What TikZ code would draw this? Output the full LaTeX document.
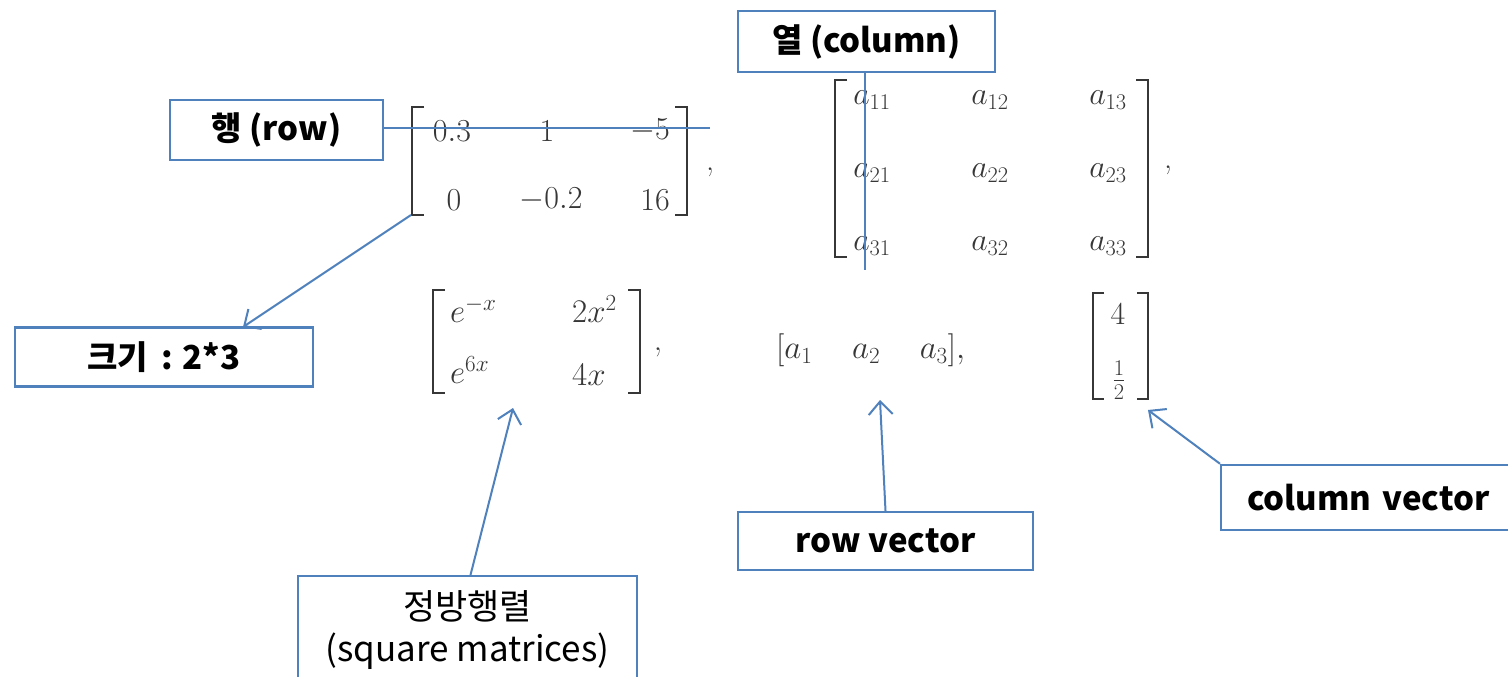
\RequirePackage{fix-cm}
\documentclass[tikz,border=0pt]{standalone}
\usepackage{fontspec}
\newfontfamily\kr{Noto Sans CJK KR}
\usetikzlibrary{arrows.meta,calc}
\definecolor{bbox}{RGB}{79,129,189}
\definecolor{mgray}{RGB}{55,55,55}
\tikzset{
  lbl/.style={draw=bbox,line width=2.4pt,fill=white,inner sep=0pt,text=black,
    font=\kr\bfseries\fontsize{33}{38}\selectfont},
  conn/.style={draw=bbox,line width=2pt},
  arr/.style={conn,-{Straight Barb[length=13pt,width=24pt,line width=2pt]}},
  entA/.style={inner sep=0pt,text=mgray,font=\fontsize{32}{38}\selectfont},
  entB/.style={inner sep=0pt,text=mgray,font=\fontsize{32}{38}\selectfont},
  entC/.style={inner sep=0pt,text=mgray,font=\fontsize{33}{38}\selectfont},
  brk/.style={draw=mgray,line width=2.2pt},
}
\begin{document}
\begin{tikzpicture}[x=1pt,y=-1pt]
\useasboundingbox (0,0) rectangle (1508,677);
\clip (0,0) rectangle (1508,677);
\fill[white] (0,0) rectangle (1508,677);

% ---- matrix 1 (2x3)
\draw[brk] (424,107) -- (412,107) -- (412,215) -- (424,215);
\draw[brk] (675,107) -- (687,107) -- (687,215) -- (675,215);
\node[entA] (m11) at (452,131) {$0.3$};
\node[entA] (m12) at (547,131) {$1$};
\node[entA,anchor=east] (m13) at (670,131) {$-5$};
\node[entA] (m21) at (454,200) {$0$};
\node[entA] (m22) at (551,200) {$-0.2$};
\node[entA,anchor=east] (m23) at (670,200) {$16$};
\node[entA] (c1) at (710,172) {,};

% ---- matrix 2 (3x3)
\draw[brk] (847,80) -- (835,80) -- (835,257) -- (847,257);
\draw[brk] (1136,80) -- (1148,80) -- (1148,257) -- (1136,257);
\node[entB] (a11) at (872,100) {$a_{11}$};
\node[entB] (a12) at (990,100) {$a_{12}$};
\node[entB] (a13) at (1108,100) {$a_{13}$};
\node[entB] (a21) at (872,173) {$a_{21}$};
\node[entB] (a22) at (990,173) {$a_{22}$};
\node[entB] (a23) at (1108,173) {$a_{23}$};
\node[entB] (a31) at (872,246) {$a_{31}$};
\node[entB] (a32) at (990,246) {$a_{32}$};
\node[entB] (a33) at (1108,246) {$a_{33}$};
\node[entB] (c2) at (1168,170) {,};

% ---- matrix 3 (2x2)
\draw[brk] (445,290) -- (433,290) -- (433,393) -- (445,393);
\draw[brk] (628,290) -- (640,290) -- (640,393) -- (628,393);
\node[entC,anchor=base west] (e11) at (450,322) {$e^{-x}$};
\node[entC,anchor=base west] (e12) at (572,322) {$2x^2$};
\node[entC,anchor=base west] (e21) at (450,383) {$e^{6x}$};
\node[entC,anchor=base west] (e22) at (572,385) {$4x$};
\node[entC] (c3) at (658,352) {,};

% ---- row vector
\node[entC,anchor=west] (rv) at (776,350) {$[a_1\hspace{1.2em}a_2\hspace{1.2em}a_3],$};

% ---- column vector
\draw[brk] (1104,293) -- (1093,293) -- (1093,399) -- (1104,399);
\draw[brk] (1137,293) -- (1148,293) -- (1148,399) -- (1137,399);
\node[entA] (v1) at (1118,314) {$4$};
\node[entA] (v2) at (1119,380) {$\frac{1}{2}$};

% ---- label boxes
\node[lbl,minimum width=213pt,minimum height=60pt] (rowbox) at (276.5,130) {행 (row)};
\node[lbl,minimum width=257pt,minimum height=61pt] (colbox) at (866.5,41.5) {열 (column)};
\node[lbl,minimum width=298pt,minimum height=59pt] (sizebox) at (164,357) {크기\hspace{0.4em}:\hspace{0.3em}2*3};
\node[lbl,minimum width=295pt,minimum height=58pt] (rvbox) at (885.5,541) {row vector};
\node[lbl,anchor=west,minimum width=320pt,minimum height=65pt,text width=294pt,align=left,inner xsep=0pt] (cvbox) at (1220,497.5) {\hspace{13pt}column vector};
\node[lbl,anchor=north,minimum width=339pt,inner ysep=14pt,align=center,
  font=\kr\fontsize{35}{42}\selectfont] (sqbox) at (467.5,575) {정방행렬\\(square matrices)\\\mbox{}};

% ---- connectors
\coordinate (rowend) at (710,128);
\coordinate (colend) at (865,270);
\coordinate (m1corner) at (411,215);
\coordinate (sizetip) at (243,327);
\coordinate (sqtip) at (513,408);
\coordinate (rvtip) at (880,400);
\coordinate (cvtip) at (1148,410);
\draw[conn] (rowbox.east |- rowend) -- (rowend);
\draw[conn] (colend |- colbox.south) -- (colend);
\draw[arr] (m1corner) -- (sizetip);
\draw[arr] ($(sqbox.north)+(3,0)$) -- (sqtip);
\draw[arr] (rvbox.north) -- (rvtip);
\draw[arr] (cvbox.north west) -- (cvtip);
\end{tikzpicture}
\end{document}
